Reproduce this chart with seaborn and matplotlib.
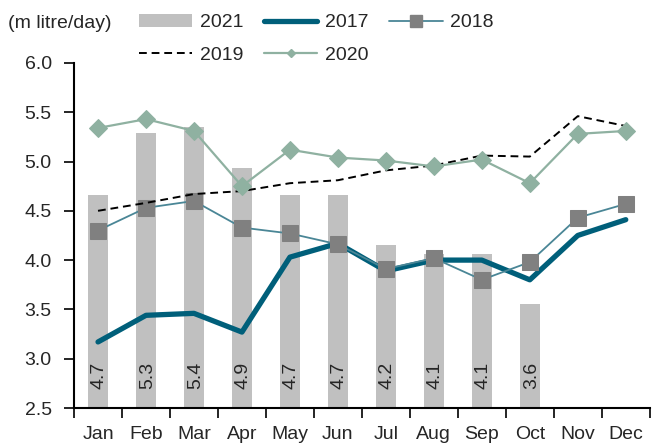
import matplotlib
matplotlib.use('Agg')
import matplotlib.pyplot as plt
from matplotlib.lines import Line2D
from matplotlib.patches import Patch
import numpy as np
import pandas as pd
import seaborn as sns

months = ["Jan", "Feb", "Mar", "Apr", "May", "Jun", "Jul", "Aug", "Sep", "Oct", "Nov", "Dec"]
v2021 = [4.66, 5.29, 5.35, 4.93, 4.66, 4.66, 4.15, 4.06, 4.06, 3.55]
labels2021 = ["4.7", "5.3", "5.4", "4.9", "4.7", "4.7", "4.2", "4.1", "4.1", "3.6"]
v2017 = [3.17, 3.44, 3.46, 3.27, 4.03, 4.17, 3.89, 4.00, 4.00, 3.80, 4.25, 4.41]
v2018 = [4.30, 4.53, 4.60, 4.33, 4.27, 4.16, 3.91, 4.02, 3.80, 3.98, 4.43, 4.57]
v2019 = [4.50, 4.58, 4.67, 4.70, 4.78, 4.81, 4.91, 4.96, 5.06, 5.05, 5.46, 5.36]
v2020 = [5.34, 5.43, 5.31, 4.75, 5.12, 5.04, 5.01, 4.95, 5.02, 4.78, 5.28, 5.31]

c_bar = "#c0c0c0"
c17 = "#005f7a"
c18 = "#4a8696"
c18m = "#808080"
c20 = "#8fb1a1"

sns.set_style("ticks")
plt.rcParams['font.family'] = ['Liberation Sans', 'DejaVu Sans']
fs = 14

fig = plt.figure(figsize=(6.61, 4.43), dpi=100)
ax = fig.add_axes([0.112, 0.079, 0.871, 0.779])

bars = pd.DataFrame({"month": months[:len(v2021)], "value": v2021})
sns.barplot(data=bars, x="month", y="value", order=months, color=c_bar,
            saturation=1, width=0.42, ax=ax, zorder=1)
for p in ax.patches:
    p.set_edgecolor("none")

x = np.arange(len(months))
for i, lab in enumerate(labels2021):
    ax.text(i + 0.03, 2.69, lab, rotation=90, ha="center", va="bottom", fontsize=fs, zorder=5)

sns.lineplot(x=x, y=v2017, color=c17, lw=3.8, ax=ax, zorder=3, solid_capstyle="round")
sns.lineplot(x=x, y=v2018, color=c18, lw=1.3, marker="s", markersize=11.5,
             markerfacecolor=c18m, markeredgecolor=c18m, ax=ax, zorder=4)
sns.lineplot(x=x, y=v2019, color="black", lw=1.4, ax=ax, zorder=4, dashes=False,
             linestyle=(0, (4, 2.5)))
sns.lineplot(x=x, y=v2020, color=c20, lw=1.6, marker="D", markersize=9,
             markerfacecolor=c20, markeredgecolor=c20, ax=ax, zorder=4)

ax.set_xlim(-0.5, 11.5)
ax.set_ylim(2.5, 6.0)
ax.set_yticks(np.arange(2.5, 6.01, 0.5))
ax.set_yticklabels([f"{v:.1f}" for v in np.arange(2.5, 6.01, 0.5)], fontsize=fs)
ax.set_xticks(x)
ax.set_xticklabels(months, fontsize=fs)
ax.set_xticks(np.arange(-0.5, 12, 1), minor=True)
ax.tick_params(axis="x", which="major", length=0, pad=13)
ax.tick_params(axis="x", which="minor", length=7, width=1.2, color="black")
ax.tick_params(axis="y", length=7, width=1.2, color="black", pad=9)
ax.set_xlabel("")
ax.set_ylabel("")
for s in ["top", "right"]:
    ax.spines[s].set_visible(False)
for s in ["left", "bottom"]:
    ax.spines[s].set_linewidth(1.5)
    ax.spines[s].set_color("black")
ax.grid(False)

handles = [
    Patch(facecolor=c_bar, edgecolor="none"),
    Line2D([], [], color="black", lw=1.4, linestyle=(0, (4, 2.5))),
    Line2D([], [], color=c17, lw=3.8, solid_capstyle="round"),
    Line2D([], [], color=c20, lw=1.6, marker="D", markersize=4,
           markerfacecolor=c20, markeredgecolor=c20),
    Line2D([], [], color=c18, lw=1.3, marker="s", markersize=8,
           markerfacecolor=c18m, markeredgecolor=c18m),
]
names = ["2021", "2019", "2017", "2020", "2018"]
fig.legend(handles, names, loc="upper left", bbox_to_anchor=(0.21, 0.969), ncol=3,
           frameon=False, fontsize=fs, handlelength=2.75, handletextpad=0.4,
           columnspacing=1.05, labelspacing=0.76, borderpad=0, borderaxespad=0)

fig.text(0.012, 0.948, "(m litre/day)", fontsize=fs, va="center", ha="left")

fig.savefig("out.png", dpi=100)
